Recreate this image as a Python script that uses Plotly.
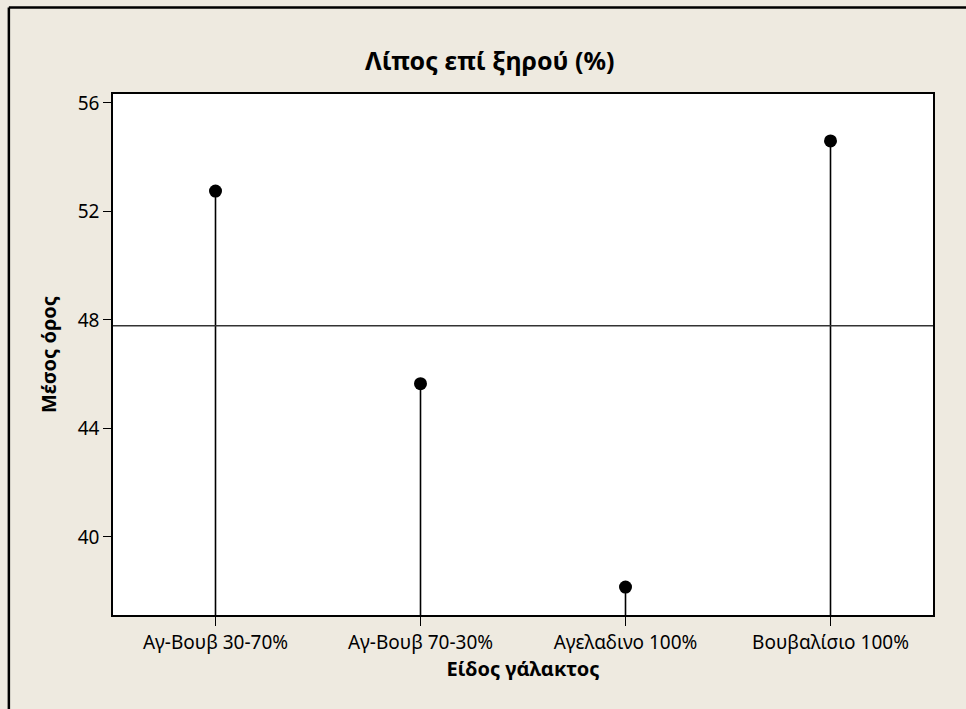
import numpy as np
import plotly.graph_objects as go

# Main effects: mean fat in dry matter per milk type
categories = ["Αγ-Βουβ 30-70%", "Αγ-Βουβ 70-30%", "Αγελαδινο 100%", "Βουβαλίσιο 100%"]
means = [52.75, 45.65, 38.15, 54.6]
y_ticks = [40, 44, 48, 52, 56]

title_text = "Λίπος επί ξηρού (%)"
x_title = "Είδος γάλακτος"
y_title = "Μέσος όρος"

Y_MIN, Y_MAX = 37.12, 56.33
grand_mean = float(np.mean(means))

FONT = "Noto Sans"
BG = "#EEEAE0"

fig = go.Figure()

# vertical stems from the bottom of the axis to each mean
for i, v in enumerate(means):
    fig.add_trace(go.Scatter(
        x=[i, i], y=[Y_MIN, v], mode="lines",
        line=dict(color="black", width=1.6),
        hoverinfo="skip", showlegend=False,
    ))

# mean points
fig.add_trace(go.Scatter(
    x=list(range(len(categories))), y=means, mode="markers",
    marker=dict(color="black", size=13),
    showlegend=False,
))

# overall mean reference line
fig.add_shape(type="line", xref="paper", yref="y", x0=0, x1=1,
              y0=grand_mean, y1=grand_mean,
              line=dict(color="#333333", width=1.5))

# frame edges (top and left) around the graph
fig.add_shape(type="line", xref="paper", yref="paper",
              x0=-0.127, x1=1.0403, y0=1.166, y1=1.166,
              line=dict(color="black", width=2.5))
fig.add_shape(type="line", xref="paper", yref="paper",
              x0=-0.127, x1=-0.127, y0=-0.181, y1=1.166,
              line=dict(color="black", width=2.5))

fig.update_layout(
    width=966, height=709,
    margin=dict(l=113, r=33, t=94, b=94),
    paper_bgcolor=BG, plot_bgcolor="white",
    font=dict(family=FONT, size=19, color="black"),
    title=dict(text="<b>" + title_text + "</b>", x=0.507, xanchor="center",
               y=0.913, yanchor="middle",
               font=dict(family=FONT, size=25, color="black")),
    xaxis=dict(
        range=[-0.5, 3.5], tickmode="array",
        tickvals=list(range(len(categories))), ticktext=categories,
        showgrid=False, zeroline=False,
        showline=True, linecolor="black", linewidth=1.5, mirror=True,
        ticks="outside", ticklen=9, tickwidth=1.3, tickcolor="black",
        tickfont=dict(family=FONT, size=19),
        title=dict(text="<b>" + x_title + "</b>", standoff=8,
                   font=dict(family=FONT, size=20)),
    ),
    yaxis=dict(
        range=[Y_MIN, Y_MAX], tickmode="array", tickvals=y_ticks,
        showgrid=False, zeroline=False,
        showline=True, linecolor="black", linewidth=1.5, mirror=True,
        ticks="outside", ticklen=8, tickwidth=1.3, tickcolor="black",
        tickfont=dict(family=FONT, size=19),
        title=dict(text="<b>" + y_title + "</b>", standoff=16,
                   font=dict(family=FONT, size=20)),
    ),
)

fig.write_html("out.html")
